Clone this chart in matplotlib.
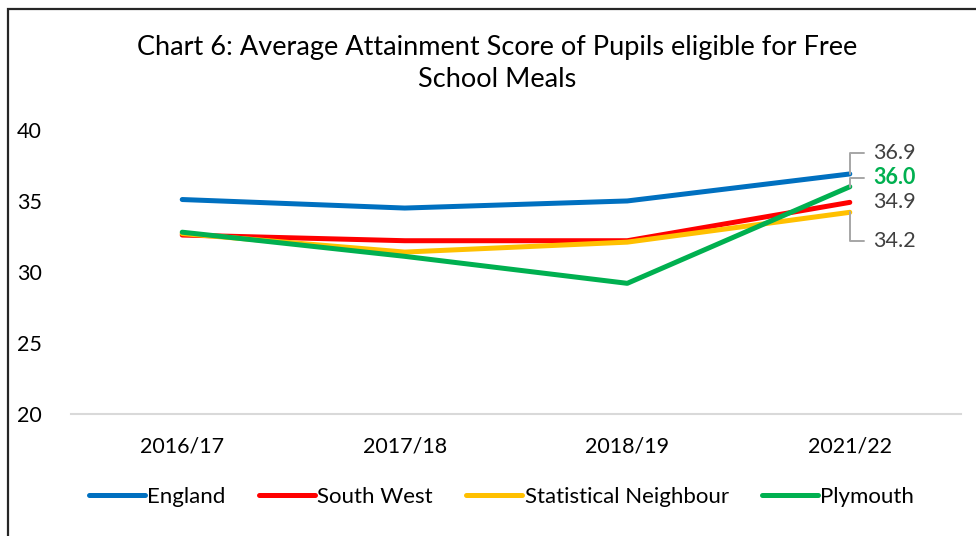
import matplotlib
matplotlib.use("Agg")
import matplotlib.pyplot as plt
from matplotlib.patches import Rectangle

years = ["2016/17", "2017/18", "2018/19", "2021/22"]
england = [35.1, 34.5, 35.0, 36.9]
south_west = [32.6, 32.2, 32.2, 34.9]
stat_neighbour = [32.7, 31.4, 32.1, 34.2]
plymouth = [32.8, 31.1, 29.2, 36.0]

plt.rcParams["font.family"] = ["Lato", "DejaVu Sans"]

fig = plt.figure(figsize=(9.76, 5.36), dpi=100)
ax = fig.add_axes([0.0727, 0.2276, 0.912, 0.53])

# outer chart frame (runs off the right and bottom edges)
fig.patches.append(Rectangle((0.0077, -0.05), 1.2, 0.034 + 1.0, transform=fig.transFigure,
                             fill=False, edgecolor="#262626", linewidth=1.6))

x = range(len(years))
series = [
    ("England", england, "#0070C0"),
    ("South West", south_west, "#FF0000"),
    ("Statistical Neighbour", stat_neighbour, "#FFC000"),
    ("Plymouth", plymouth, "#00B050"),
]
for name, vals, col in series:
    ax.plot(x, vals, color=col, lw=3.6, solid_capstyle="round", solid_joinstyle="round", label=name)

ax.set_xlim(-0.5, len(years) - 0.5)
ax.set_ylim(20, 40)
ax.set_yticks([20, 25, 30, 35, 40])
ax.set_xticks(list(x))
ax.set_xticklabels(years)
ax.tick_params(axis="both", length=0, labelsize=15.5, colors="black")
ax.tick_params(axis="x", pad=16)
ax.tick_params(axis="y", pad=21)
for s in ["top", "right", "left"]:
    ax.spines[s].set_visible(False)
ax.spines["bottom"].set_color("#d9d9d9")
ax.spines["bottom"].set_linewidth(1.5)

# end-of-line value labels with leader lines
last = len(years) - 1
labels = [
    (england[last], 15, "#404040", "normal", True),
    (plymouth[last], 6.5, "#00B050", "bold", True),
    (south_west[last], 0, "#404040", "normal", False),
    (stat_neighbour[last], -21, "#404040", "normal", True),
]
for val, dy, col, wt, leader in labels:
    arrow = None
    if leader:
        arrow = dict(arrowstyle="-", color="#a6a6a6", lw=1.4,
                     connectionstyle="angle,angleA=0,angleB=90,rad=0",
                     shrinkA=5, shrinkB=0)
    ax.annotate(f"{val:.1f}", xy=(last, val), xytext=(17, dy), textcoords="offset points",
                ha="left", va="center", fontsize=15.5, color=col, fontweight=wt,
                arrowprops=arrow, annotation_clip=False)

fig.text(0.509, 0.912, "Chart 6: Average Attainment Score of Pupils eligible for Free",
         ha="center", va="center", fontsize=19.5, color="black")
fig.text(0.509, 0.851, "School Meals", ha="center", va="center", fontsize=19.5, color="black")

fig.legend(loc="center", bbox_to_anchor=(0.514, 0.073), ncol=4, frameon=False,
           fontsize=16, handlelength=2.5, handletextpad=0.12, columnspacing=1.5)

fig.savefig("out.png", dpi=100)
